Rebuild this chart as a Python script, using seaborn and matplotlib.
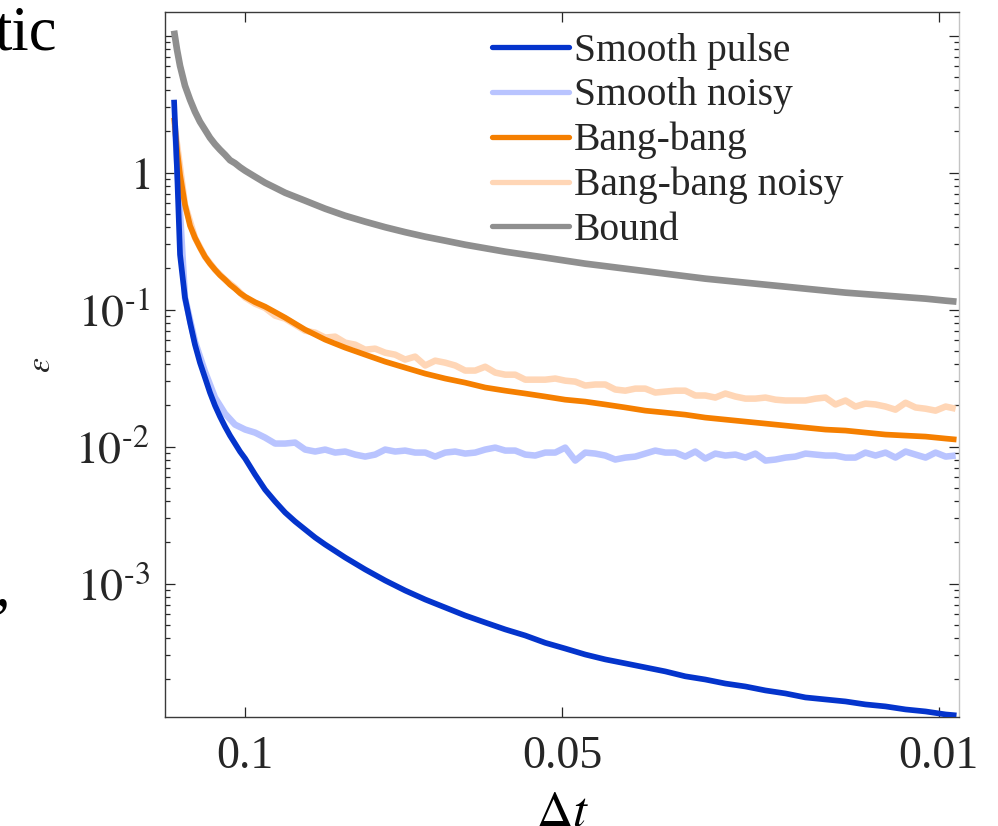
import numpy as np
import pandas as pd
import matplotlib
matplotlib.use("Agg")
import matplotlib.pyplot as plt
import seaborn as sns
from matplotlib.lines import Line2D
from matplotlib.ticker import FixedLocator, NullLocator, LogLocator, NullFormatter

# ---------------- data ----------------
dt_smooth = [0.11300, 0.11244, 0.11188, 0.11096, 0.11002, 0.10911, 0.10819, 0.10727, 0.10636, 0.10544,
             0.10453, 0.10362, 0.10272, 0.10182, 0.10092, 0.10000, 0.09825, 0.09648, 0.09472, 0.09298,
             0.09126, 0.08954, 0.08783, 0.08614,
             0.08280, 0.07951, 0.07628, 0.07310, 0.06996, 0.06689, 0.06387, 0.06090, 0.05798, 0.05512,
             0.05233, 0.04959, 0.04690, 0.04427, 0.04170, 0.03920, 0.03675, 0.03437, 0.03205, 0.02979,
             0.02759, 0.02546, 0.02340, 0.02141, 0.01949, 0.01764, 0.01587, 0.01416, 0.01253, 0.01098,
             0.00951, 0.00875]

smooth_pulse = [3.41, 1.052, 0.252, 0.1224, 0.0804, 0.0555, 0.0410, 0.0319, 0.0248, 0.01992,
                0.01656, 0.0140, 0.01203, 0.01052, 0.00919, 0.00817, 0.00625, 0.00485, 0.00397, 0.00330,
                0.00284, 0.00248, 0.002167, 0.001926,
                0.001548, 0.001266, 0.001052, 0.000889, 0.000764, 0.000668, 0.000584, 0.000519, 0.000462, 0.000417,
                0.000369, 0.000335, 0.000303, 0.000279, 0.000261, 0.000244, 0.000228, 0.000210, 0.000199, 0.000186,
                0.000177, 0.0001656, 0.0001574, 0.0001472, 0.0001423, 0.0001376, 0.0001309, 0.0001266, 0.0001203, 0.0001163,
                0.0001106, 0.0001088]

bang_bang = [2.52, 1.472, 0.967, 0.584, 0.410, 0.335, 0.2835, 0.2437, 0.2167, 0.1959,
             0.1785, 0.1656, 0.1522, 0.1423, 0.1320, 0.1244, 0.1134, 0.1052, 0.0959, 0.0874,
             0.0790, 0.0714, 0.0657, 0.0604,
             0.0528, 0.0469, 0.0417, 0.0377, 0.0341, 0.0314, 0.0293, 0.0270, 0.0256, 0.0244,
             0.0232, 0.0220, 0.0213, 0.0203, 0.0193, 0.0183, 0.0177, 0.0171, 0.01628, 0.01574,
             0.01522, 0.01472, 0.01423, 0.01376, 0.01331, 0.01309, 0.01266, 0.01224, 0.01203, 0.01183,
             0.01144, 0.01125]

bound = [10.9, 7.90, 6.04, 4.32, 3.41, 2.79, 2.356, 2.06, 1.801, 1.615,
         1.472, 1.353, 1.234, 1.173, 1.097, 1.034, 0.935, 0.845, 0.777, 0.714,
         0.668, 0.625, 0.584, 0.546,
         0.485, 0.439, 0.400, 0.368, 0.341, 0.319, 0.298, 0.281, 0.265, 0.252,
         0.240, 0.228, 0.2167, 0.2078, 0.1992, 0.1910, 0.1831, 0.1756, 0.1684, 0.1628,
         0.1574, 0.1522, 0.1472, 0.1423, 0.1376, 0.1331, 0.1298, 0.1266, 0.1234, 0.1203,
         0.1163, 0.1144]

dt_noisy = [0.11282, 0.11096, 0.10911, 0.10727, 0.10544, 0.10362, 0.10182, 0.10000, 0.09825, 0.09648,
            0.09472, 0.09298, 0.09126, 0.08954, 0.08783, 0.08614, 0.08447, 0.08280, 0.08115, 0.07951,
            0.07789, 0.07628, 0.07468, 0.07310, 0.07153, 0.06996, 0.06842, 0.06689, 0.06537, 0.06387,
            0.06237, 0.06090, 0.05943, 0.05798, 0.05655, 0.05512, 0.05372, 0.05233, 0.05095, 0.04959,
            0.04823, 0.04690, 0.04558, 0.04427, 0.04298, 0.04170, 0.04044, 0.03920, 0.03797, 0.03675,
            0.03555, 0.03437, 0.03320, 0.03205, 0.03091, 0.02979, 0.02868, 0.02759, 0.02652, 0.02546,
            0.02442, 0.02340, 0.02240, 0.02141, 0.02044, 0.01949, 0.01856, 0.01764, 0.01675, 0.01587,
            0.01500, 0.01416, 0.01334, 0.01253, 0.01175, 0.01098, 0.01024, 0.00951, 0.00881]

smooth_noisy = [2.2, 0.1224, 0.0584, 0.0353, 0.0228, 0.0174, 0.01447, 0.01331, 0.01265, 0.01163,
                0.01052, 0.01052, 0.01070, 0.00951, 0.00920, 0.00951, 0.00904, 0.00920, 0.00874, 0.00845,
                0.00874, 0.00951, 0.00920, 0.00935, 0.00904, 0.00904, 0.00845, 0.00904, 0.00920, 0.00889,
                0.00904, 0.00951, 0.00983, 0.00935, 0.00935, 0.00874, 0.00860, 0.00904, 0.00904, 0.00983,
                0.00790, 0.00904, 0.00889, 0.00860, 0.00804, 0.00831, 0.00845, 0.00889, 0.00935, 0.00904,
                0.00904, 0.00845, 0.00920, 0.00817, 0.00889, 0.00860, 0.00874, 0.00831, 0.00889, 0.00790,
                0.00804, 0.00831, 0.00845, 0.00889, 0.00874, 0.00860, 0.00860, 0.00831, 0.00831, 0.00904,
                0.00860, 0.00904, 0.00831, 0.00920, 0.00874, 0.00831, 0.00904, 0.00845, 0.00860]

bang_bang_noisy = [2.1, 0.584, 0.335, 0.2437, 0.1959, 0.1656, 0.1447, 0.1224, 0.1106, 0.1030,
                   0.0904, 0.0860, 0.0777, 0.0702, 0.0679, 0.0625, 0.0635, 0.0574, 0.0555, 0.0510,
                   0.0519, 0.0485, 0.0469, 0.0432, 0.0454, 0.0391, 0.0424, 0.0410, 0.0391, 0.0359,
                   0.0359, 0.0383, 0.0347, 0.0335, 0.0335, 0.0308, 0.0308, 0.0308, 0.0314, 0.0303,
                   0.0298, 0.0279, 0.0284, 0.0284, 0.0261, 0.0256, 0.0265, 0.0265, 0.0248, 0.0252,
                   0.0256, 0.0256, 0.0236, 0.0236, 0.0228, 0.0244, 0.0232, 0.0224, 0.0224, 0.0228,
                   0.0220, 0.0217, 0.0217, 0.0217, 0.0224, 0.0228, 0.0203, 0.0217, 0.0196, 0.0206,
                   0.0203, 0.0196, 0.0186, 0.0209, 0.0193, 0.0189, 0.0183, 0.0196, 0.0189]

series_labels = ["Smooth pulse", "Smooth noisy", "Bang-bang", "Bang-bang noisy", "Bound"]
x_tick_values = [0.1, 0.05, 0.01]
x_tick_labels = ["0.1", "0.05", "0.01"]
y_tick_values = [1e-3, 1e-2, 1e-1, 1, 10]
y_tick_labels = [r"$10^{\text{-}3}$", r"$10^{\text{-}2}$", r"$10^{\text{-}1}$", r"$1$", ""]

# ---------------- styling ----------------
sns.set_style("ticks")
plt.rcParams.update({
    "font.family": ["Liberation Serif", "DejaVu Serif"],
    "mathtext.fontset": "stix",
})

colors = {
    "Smooth pulse": "#0434CC",
    "Smooth noisy": "#B9C4FF",
    "Bang-bang": "#F57F00",
    "Bang-bang noisy": "#FFD6B6",
    "Bound": "#8F8F8F",
}
widths = {"Smooth pulse": 4.1, "Smooth noisy": 4.7, "Bang-bang": 4.1,
          "Bang-bang noisy": 4.7, "Bound": 4.8}
zorders = {"Bang-bang noisy": 2, "Smooth noisy": 3, "Bang-bang": 4, "Smooth pulse": 5, "Bound": 6}

frames = [
    pd.DataFrame({"dt": dt_smooth, "eps": smooth_pulse, "series": "Smooth pulse"}),
    pd.DataFrame({"dt": dt_noisy, "eps": smooth_noisy, "series": "Smooth noisy"}),
    pd.DataFrame({"dt": dt_smooth, "eps": bang_bang, "series": "Bang-bang"}),
    pd.DataFrame({"dt": dt_noisy, "eps": bang_bang_noisy, "series": "Bang-bang noisy"}),
    pd.DataFrame({"dt": dt_smooth, "eps": bound, "series": "Bound"}),
]
df = pd.concat(frames, ignore_index=True)

fig = plt.figure(figsize=(9.98, 8.26), dpi=100)
ax = fig.add_axes([0.1653, 0.132, 0.7956, 0.8529])

for name in ["Bang-bang noisy", "Smooth noisy", "Bang-bang", "Smooth pulse", "Bound"]:
    sub = df[df["series"] == name]
    sns.lineplot(data=sub, x="dt", y="eps", ax=ax, color=colors[name],
                 linewidth=widths[name], estimator=None, sort=False, legend=False,
                 zorder=zorders[name], solid_capstyle="butt", solid_joinstyle="round")

ax.set_yscale("log")
q = 0.61
ax.set_xscale("function", functions=(lambda x: np.power(np.clip(x, 1e-9, None), q),
                                     lambda u: np.power(np.clip(u, 1e-12, None), 1.0 / q)))
ax.set_xlim(0.1147, 0.00858)
ax.set_ylim(1.06e-4, 14.8)

ax.xaxis.set_major_locator(FixedLocator(x_tick_values))
ax.set_xticklabels(x_tick_labels)
ax.xaxis.set_minor_locator(NullLocator())
ax.yaxis.set_major_locator(FixedLocator(y_tick_values))
ax.set_yticklabels(y_tick_labels)
ax.yaxis.set_minor_locator(LogLocator(base=10, subs=np.arange(2, 10), numticks=20))
ax.yaxis.set_minor_formatter(NullFormatter())

tick_col = "#262626"
ax.tick_params(axis="both", which="major", direction="in", length=7.2, width=0.9,
               color=tick_col, labelcolor=tick_col, labelsize=33, top=True, right=True)
ax.tick_params(axis="x", which="major", pad=13)
ax.tick_params(axis="y", which="major", pad=11)
ax.tick_params(axis="y", which="minor", direction="in", length=3.6, width=0.9,
               color=tick_col, right=True, left=True)

for side in ["left", "bottom", "top"]:
    ax.spines[side].set_color("#3a3a3a")
    ax.spines[side].set_linewidth(1.0)
ax.spines["right"].set_color("#c4c4c4")
ax.spines["right"].set_linewidth(1.0)

ax.set_xlabel(r"$\Delta t$", fontsize=36, color="black")
ax.xaxis.set_label_coords(0.5, -0.103)
ax.xaxis.label.set_va("top")
ax.set_ylabel(r"$\epsilon$", fontsize=24, color=tick_col)
ax.yaxis.set_label_coords(-0.136, 0.5)

handles = [Line2D([0], [0], color=colors[n], linewidth=3.8) for n in series_labels]
ax.legend(handles, series_labels, loc="upper left", bbox_to_anchor=(0.412, 0.971),
          frameon=False, fontsize=28.5, handlelength=1.95, handletextpad=0.12,
          labelspacing=0.19, borderpad=0, borderaxespad=0)

# fragments of neighbouring panel text
fig.text(-6 / 998, 1 - 49 / 826, "tic", fontsize=45, va="baseline", ha="left", color="black")
fig.text(-5 / 998, 1 - 606 / 826, ",", fontsize=45, va="baseline", ha="left", color="black",
         style="italic")

fig.savefig("out.png", dpi=100)
